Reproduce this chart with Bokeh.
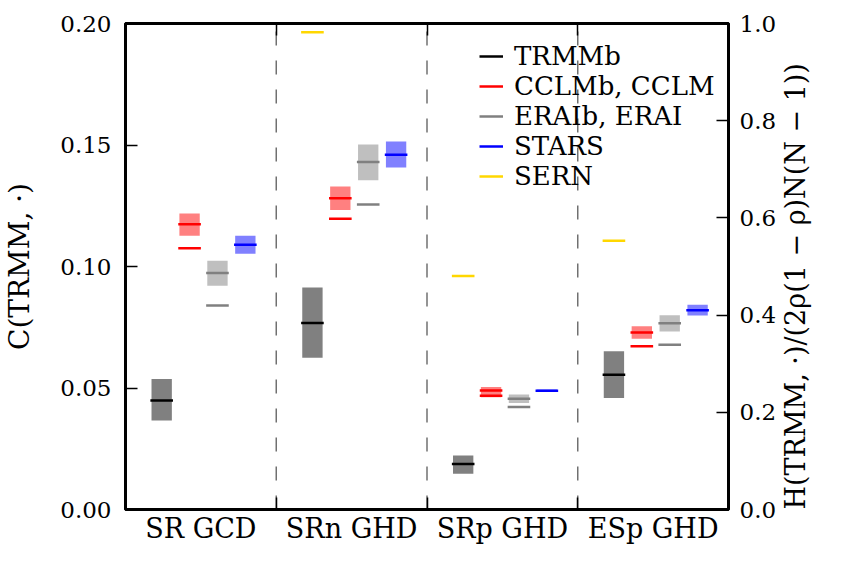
import math
from bokeh.plotting import figure
from bokeh.models import (Range1d, LinearAxis, FixedTicker, PrintfTickFormatter,
                          Legend, LegendItem)
from bokeh.embed import file_html
from bokeh.resources import INLINE

# ---------------- data ----------------
groups = ["SR GCD", "SRn GHD", "SRp GHD", "ESp GHD"]

trmmb_lo = [0.0366, 0.0624, 0.0147, 0.0459]
trmmb_hi = [0.0537, 0.0914, 0.0222, 0.0651]
trmmb_med = [0.0449, 0.0768, 0.0187, 0.0555]

cclmb_lo = [0.1127, 0.1233, 0.0462, 0.0703]
cclmb_hi = [0.1218, 0.1329, 0.0504, 0.0754]
cclmb_med = [0.1174, 0.1281, 0.0490, 0.0728]
cclm = [0.1075, 0.1196, 0.0468, 0.0672]

eraib_lo = [0.0921, 0.1355, 0.0438, 0.0733]
eraib_hi = [0.1024, 0.1502, 0.0473, 0.0799]
eraib_med = [0.0973, 0.1430, 0.0456, 0.0766]
erai = [0.0840, 0.1255, 0.0422, 0.0678]

stars_lo = [0.1052, 0.1407, 0.0485, 0.0798]
stars_hi = [0.1127, 0.1514, 0.0494, 0.0843]
stars_med = [0.1090, 0.1460, 0.0489, 0.0820]

sern = [None, 0.1964, 0.0961, 0.1106]

c_ticks = [0.0, 0.05, 0.10, 0.15, 0.20]
h_ticks = [0.0, 0.2, 0.4, 0.6, 0.8, 1.0]

left_title = "C(TRMM, ·)"
right_title = "H(TRMM, ·)/(2ρ(1 − ρ)N(N − 1))"

# ---------------- style ----------------
FONT = "DejaVu Serif"
BOXW = 0.135
LINEW = 0.15
OFF = {"trmm": 0.24, "cclm": 0.425, "erai": 0.61, "stars": 0.795, "sern": 0.24}

p = figure(width=829, height=546, output_backend="svg", toolbar_location=None,
           x_range=Range1d(0, len(groups)), y_range=Range1d(0, 0.2),
           min_border_left=125, min_border_right=85, min_border_top=23,
           min_border_bottom=30)
p.background_fill_color = "white"
p.border_fill_color = "white"
p.outline_line_color = "black"
p.outline_line_width = 3
p.xgrid.visible = False
p.ygrid.visible = False
p.extra_y_ranges = {"h": Range1d(0, 1.0)}

n = len(groups)
p.segment(x0=list(range(1, n)), x1=list(range(1, n)), y0=[0] * (n - 1), y1=[0.2] * (n - 1),
          line_color="#707070", line_width=1.5, line_dash="14 15")


def boxes(off, lo, hi, med, fill, line):
    xs = [i + off for i in range(n)]
    p.quad(left=[x - BOXW / 2 for x in xs], right=[x + BOXW / 2 for x in xs],
           bottom=lo, top=hi, fill_color=fill, line_color=None)
    return p.segment(x0=[x - LINEW / 2 for x in xs], x1=[x + LINEW / 2 for x in xs],
                     y0=med, y1=med, line_color=line, line_width=2.5)


def lines(off, vals, color):
    xs = [i + off for i, v in enumerate(vals) if v is not None]
    ys = [v for v in vals if v is not None]
    return p.segment(x0=[x - LINEW / 2 for x in xs], x1=[x + LINEW / 2 for x in xs],
                     y0=ys, y1=ys, line_color=color, line_width=2.5)


r_trmm = boxes(OFF["trmm"], trmmb_lo, trmmb_hi, trmmb_med, "#808080", "black")
r_cclm = boxes(OFF["cclm"], cclmb_lo, cclmb_hi, cclmb_med, "#ff8080", "red")
lines(OFF["cclm"], cclm, "red")
r_erai = boxes(OFF["erai"], eraib_lo, eraib_hi, eraib_med, "#bfbfbf", "#808080")
lines(OFF["erai"], erai, "#808080")
r_stars = boxes(OFF["stars"], stars_lo, stars_hi, stars_med, "#8080ff", "blue")
r_sern = lines(OFF["sern"], sern, "#ffd700")

xa = p.xaxis[0]
xa.ticker = FixedTicker(ticks=[i + 0.5 for i in range(n)], minor_ticks=list(range(1, n)))
xa.major_label_overrides = {i + 0.5: g for i, g in enumerate(groups)}
xa.major_tick_line_color = None
xa.major_tick_in = 0
xa.major_tick_out = 0
xa.minor_tick_in = 12
xa.minor_tick_out = 0
xa.minor_tick_line_width = 1.5
xa.minor_tick_line_color = "black"
xa.major_label_standoff = 3
xa.axis_line_width = 3
xa.major_label_text_font = FONT
xa.major_label_text_font_size = "27px"
xa.major_label_text_color = "black"

ya = p.yaxis[0]
ya.ticker = FixedTicker(ticks=c_ticks, minor_ticks=[])
ya.formatter = PrintfTickFormatter(format="%.2f")
ya.axis_label = left_title
ya.axis_line_width = 3
ya.axis_label_standoff = 21
ya.axis_label_text_font_size = "28px"

ra = LinearAxis(y_range_name="h", ticker=FixedTicker(ticks=h_ticks, minor_ticks=[]),
                formatter=PrintfTickFormatter(format="%.1f"),
                axis_label=right_title)
ra.axis_line_width = 3
ra.axis_label_orientation = math.pi / 2
ra.axis_label_align = "start"
ra.axis_label_standoff = 16
ra.axis_label_text_font_size = "27px"
p.add_layout(ra, "right")

ta = LinearAxis(ticker=FixedTicker(ticks=[], minor_ticks=list(range(1, n))),
                major_label_text_font_size="0px", major_label_standoff=0,
                major_tick_out=0, major_tick_in=0,
                minor_tick_in=12, minor_tick_out=0, minor_tick_line_width=1.5,
                axis_line_width=3)
p.add_layout(ta, "above")

for ax in (ya, ra):
    ax.major_label_text_font = FONT
    ax.major_label_text_font_size = "23px"
    ax.major_label_text_color = "black"
    ax.axis_label_text_font = FONT
    ax.axis_label_text_font_style = "normal"
    ax.axis_label_text_color = "black"
    ax.major_tick_in = 12
    ax.major_tick_out = 0
    ax.major_tick_line_width = 1.5
    ax.minor_tick_line_color = None
ya.major_label_standoff = 14
ra.major_label_standoff = 11

legend = Legend(items=[
    LegendItem(label="TRMMb", renderers=[r_trmm]),
    LegendItem(label="CCLMb, CCLM", renderers=[r_cclm]),
    LegendItem(label="ERAIb, ERAI", renderers=[r_erai]),
    LegendItem(label="STARS", renderers=[r_stars]),
    LegendItem(label="SERN", renderers=[r_sern]),
], location=(354, 318))
legend.label_text_font = FONT
legend.label_text_font_size = "26px"
legend.label_text_color = "black"
legend.border_line_color = None
legend.background_fill_alpha = 0
legend.padding = 0
legend.margin = 0
legend.spacing = 0
legend.glyph_width = 24
legend.glyph_height = 20
legend.label_height = 20
legend.label_standoff = 11
p.add_layout(legend)

open("out.html", "w").write(file_html(p, INLINE))
